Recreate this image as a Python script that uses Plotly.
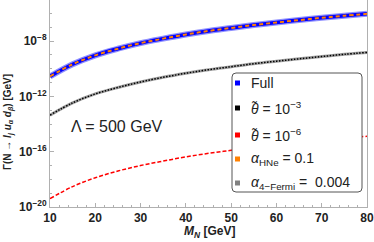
import plotly.graph_objects as go

mass = [10, 15, 20, 25, 30, 35, 40, 45, 50, 55, 60, 65, 70, 75, 80]
gamma_full = [2.8e-11, 2.1e-10, 9.3e-10, 2.8e-9, 7.1e-9, 1.5e-8, 3.0e-8, 5.4e-8,
              8.9e-8, 1.45e-7, 2.2e-7, 3.3e-7, 4.8e-7, 6.8e-7, 9.3e-7]
gamma_hne = [2.8e-11, 2.1e-10, 9.3e-10, 2.8e-9, 7.1e-9, 1.5e-8, 3.0e-8, 5.4e-8,
             8.9e-8, 1.45e-7, 2.2e-7, 3.3e-7, 4.8e-7, 6.8e-7, 9.3e-7]
gamma_theta3 = [4.4e-14, 3.4e-13, 1.5e-12, 4.4e-12, 1.1e-11, 2.4e-11, 4.7e-11, 8.5e-11,
                1.4e-10, 2.3e-10, 3.5e-10, 5.2e-10, 7.6e-10, 1.1e-9, 1.5e-9]
gamma_4fermi = [4.4e-14, 3.4e-13, 1.5e-12, 4.4e-12, 1.1e-11, 2.4e-11, 4.7e-11, 8.5e-11,
                1.4e-10, 2.3e-10, 3.5e-10, 5.2e-10, 7.6e-10, 1.1e-9, 1.5e-9]
gamma_theta6 = [4.0e-20, 3.0e-19, 1.3e-18, 4.0e-18, 1.0e-17, 2.1e-17, 4.2e-17, 7.6e-17,
                1.25e-16, 2.0e-16, 3.1e-16, 4.7e-16, 6.8e-16, 9.6e-16, 1.3e-15]

legend_names = ["Full", "<i>θ̃</i> = 10<sup>−3</sup>", "<i>θ̃</i> = 10<sup>−6</sup>",
                "<i>α</i><sub>HNe</sub> = 0.1", "<i>α</i><sub>4−Fermi</sub> =  0.004"]
legend_colors = ["#0000ff", "#000000", "#ff0000", "#ff8000", "#808080"]

x_ticks = [10, 20, 30, 40, 50, 60, 70, 80]
y_tick_vals = [1e-20, 1e-16, 1e-12, 1e-8]
y_tick_text = ["10<sup>−20</sup>", "10<sup>−16</sup>", "10<sup>−12</sup>", "10<sup>−8</sup>"]

FONT = "Liberation Sans, Arial, sans-serif"
W, H = 374, 242
ML, MR, MT, MB = 50, 7, 0, 35
PW, PH = W - ML - MR, H - MT - MB

def px(xp):
    return (xp - ML) / PW

def py(yp):
    return 1 - (yp - MT) / PH

fig = go.Figure()
fig.add_trace(go.Scatter(x=mass, y=gamma_full, mode="lines", line=dict(color="rgba(70,70,255,0.6)", width=6), showlegend=False, line_shape="spline"))
fig.add_trace(go.Scatter(x=mass, y=gamma_full, mode="lines", line=dict(color="#0000ff", width=3.5), showlegend=False, line_shape="spline"))
fig.add_trace(go.Scatter(x=mass, y=gamma_hne, mode="lines", line=dict(color="#ff8000", width=2, dash="4px,3px"), showlegend=False, line_shape="spline"))
fig.add_trace(go.Scatter(x=mass, y=gamma_4fermi, mode="lines", line=dict(color="#a0a0a0", width=3), showlegend=False, line_shape="spline"))
fig.add_trace(go.Scatter(x=mass, y=gamma_theta3, mode="lines", line=dict(color="#000000", width=1.5, dash="1.5px,1.5px"), showlegend=False, line_shape="spline"))
fig.add_trace(go.Scatter(x=mass, y=gamma_theta6, mode="lines", line=dict(color="#ff0000", width=1.5, dash="4px,2px"), showlegend=False, line_shape="spline"))

# Manual legend box (rounded)
x0, x1, y0, y1 = px(232), px(362), py(192), py(73)
rx, ry = 4 / PW, 4 / PH
path = (f"M {x0+rx},{y1} L {x1-rx},{y1} Q {x1},{y1} {x1},{y1-ry} L {x1},{y0+ry} "
        f"Q {x1},{y0} {x1-rx},{y0} L {x0+rx},{y0} Q {x0},{y0} {x0},{y0+ry} "
        f"L {x0},{y1-ry} Q {x0},{y1} {x0+rx},{y1} Z")
shapes = [dict(type="path", xref="paper", yref="paper", path=path,
               line=dict(color="#555555", width=1), fillcolor="white", layer="above")]
annotations = []
entry_y = [83, 108, 135, 159, 183]
for name, col, ey in zip(legend_names, legend_colors, entry_y):
    cx, cy = px(237.5), py(ey)
    shapes.append(dict(type="rect", xref="paper", yref="paper", layer="above",
                       x0=cx - 2.5 / PW, x1=cx + 2.5 / PW, y0=cy - 2.5 / PH, y1=cy + 2.5 / PH,
                       fillcolor=col, line=dict(width=0)))
    annotations.append(dict(x=px(249), y=cy, xref="paper", yref="paper", text=name,
                            xanchor="left", yanchor="middle", showarrow=False,
                            font=dict(size=14, color="#222222", family=FONT)))

annotations.append(dict(x=24.8, y=-14.16, xref="x", yref="y", text="Λ = 500 GeV", showarrow=False,
                        font=dict(size=16, color="#222222", family=FONT)))
annotations.append(dict(x=px(209), y=py(232), xref="paper", yref="paper",
                        text="<b><i>M</i><sub><i>N</i></sub> [GeV]</b>", showarrow=False,
                        xanchor="center", yanchor="middle",
                        font=dict(size=12, color="#222222", family=FONT)))
annotations.append(dict(x=px(9), y=py(122), xref="paper", yref="paper",
                        text="<b>Γ(N → <i>l<sub>j</sub> u<sub>α</sub> d<sub>β</sub></i>) [GeV]</b>", showarrow=False,
                        textangle=-90, xanchor="center", yanchor="middle",
                        font=dict(size=10, color="#222222", family=FONT)))

axis_common = dict(showline=True, linecolor="#b0b0b0", linewidth=1, mirror=True, automargin=False,
                   ticks="inside", ticklen=4, tickcolor="#b0b0b0", showgrid=False, zeroline=False,
                   tickfont=dict(size=12, color="#222222", family=FONT))

fig.update_layout(
    width=W, height=H,
    margin=dict(l=ML, r=MR, t=MT, b=MB),
    paper_bgcolor="white", plot_bgcolor="white",
    font=dict(family=FONT, color="#222222"),
    showlegend=False,
    shapes=shapes, annotations=annotations,
    xaxis=dict(range=[10, 80], tickvals=x_ticks, ticktext=[f"<b>{v}</b>" for v in x_ticks],
               minor=dict(ticks="inside", ticklen=2, tickcolor="#b0b0b0", dtick=2),
               **axis_common),
    yaxis=dict(type="log", range=[-20, -5.03], tickvals=y_tick_vals,
               ticktext=[f"<b>{t}</b>" for t in y_tick_text],
               minor=dict(ticks="inside", ticklen=2, tickcolor="#b0b0b0",
                          tickvals=[10**k for k in range(-20, -4)]),
               **axis_common),
)

fig.write_html("out.html", config={"displayModeBar": False},
               post_script="document.body.style.margin='0';document.body.style.overflow='hidden';")
